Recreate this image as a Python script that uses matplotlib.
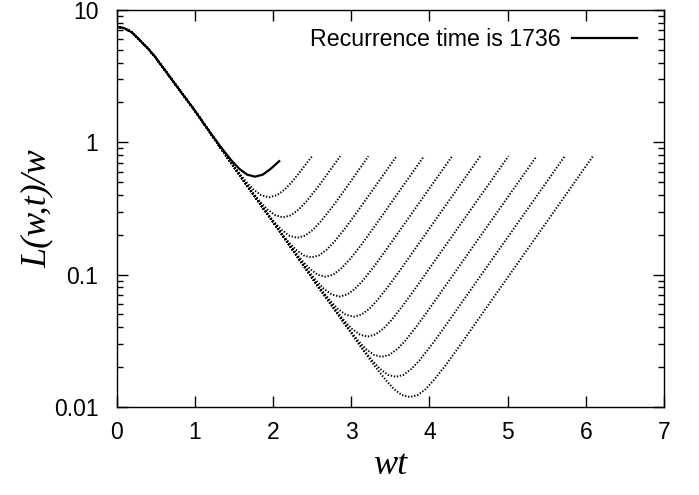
import matplotlib
matplotlib.use('Agg')
import matplotlib.pyplot as plt
from matplotlib.ticker import LogLocator, NullFormatter

plt.rcParams['font.family'] = ['Liberation Sans', 'DejaVu Sans']

# descending part that all curves share
env_x = [0.0, 0.1, 0.2, 0.3, 0.4, 0.5, 0.6, 0.7, 0.8, 0.9, 1.0, 1.1, 1.2,
         1.4, 1.6, 1.8, 2.0, 2.2, 2.4, 2.6, 2.8, 3.0, 3.2]
env_y = [7.50, 7.28, 6.76, 5.89, 5.13, 4.37, 3.63, 3.02, 2.51, 2.09, 1.74, 1.43, 1.175,
         0.794, 0.537, 0.367, 0.251, 0.170, 0.115, 0.0776, 0.0531, 0.0363, 0.0245]

# solid curve, recurrence time 1736
solid_x = [1.17, 1.32, 1.47, 1.57, 1.67, 1.77, 1.87, 1.97, 2.08]
solid_y = [1.25, 0.943, 0.728, 0.630, 0.570, 0.550, 0.570, 0.630, 0.72]
solid_label = 'Recurrence time is 1736'

# dotted curves, after they leave the shared part
dotted_x = [
    [1.35, 1.50, 1.65, 1.75, 1.85, 1.95, 2.05, 2.15, 2.25, 2.40, 2.50],
    [1.53, 1.68, 1.83, 1.93, 2.03, 2.13, 2.23, 2.33, 2.43, 2.58, 2.73, 2.86],
    [1.71, 1.86, 2.01, 2.11, 2.21, 2.31, 2.41, 2.51, 2.61, 2.76, 2.91, 3.22],
    [1.89, 2.04, 2.19, 2.29, 2.39, 2.49, 2.59, 2.69, 2.79, 2.94, 3.09, 3.58],
    [2.07, 2.22, 2.37, 2.47, 2.57, 2.67, 2.77, 2.87, 2.97, 3.12, 3.27, 3.93],
    [2.25, 2.40, 2.55, 2.65, 2.75, 2.85, 2.95, 3.05, 3.15, 3.30, 3.45, 4.29],
    [2.43, 2.58, 2.73, 2.83, 2.93, 3.03, 3.13, 3.23, 3.33, 3.48, 3.63, 4.65],
    [2.61, 2.76, 2.91, 3.01, 3.11, 3.21, 3.31, 3.41, 3.51, 3.66, 3.81, 5.01],
    [2.79, 2.94, 3.09, 3.19, 3.29, 3.39, 3.49, 3.59, 3.69, 3.84, 3.99, 5.37],
    [2.97, 3.12, 3.27, 3.37, 3.47, 3.57, 3.67, 3.77, 3.87, 4.02, 4.17, 5.73],
    [3.15, 3.30, 3.45, 3.55, 3.65, 3.75, 3.85, 3.95, 4.05, 4.20, 4.35, 6.09],
]
dotted_y = [
    [0.872, 0.658, 0.508, 0.440, 0.398, 0.384, 0.398, 0.440, 0.508, 0.658, 0.785],
    [0.615, 0.464, 0.359, 0.311, 0.281, 0.271, 0.281, 0.311, 0.359, 0.464, 0.615, 0.785],
    [0.431, 0.326, 0.252, 0.218, 0.197, 0.190, 0.197, 0.218, 0.252, 0.326, 0.431, 0.785],
    [0.306, 0.231, 0.179, 0.155, 0.140, 0.135, 0.140, 0.155, 0.179, 0.231, 0.306, 0.785],
    [0.219, 0.165, 0.128, 0.111, 0.100, 0.0965, 0.100, 0.111, 0.128, 0.165, 0.219, 0.785],
    [0.155, 0.117, 0.0904, 0.0783, 0.0708, 0.0683, 0.0708, 0.0783, 0.0904, 0.117, 0.155, 0.785],
    [0.109, 0.0824, 0.0637, 0.0551, 0.0499, 0.0481, 0.0499, 0.0551, 0.0637, 0.0824, 0.109, 0.785],
    [0.0772, 0.0583, 0.0450, 0.0390, 0.0353, 0.0340, 0.0353, 0.0390, 0.0450, 0.0583, 0.0772, 0.785],
    [0.0543, 0.0410, 0.0316, 0.0274, 0.0248, 0.0239, 0.0248, 0.0274, 0.0316, 0.0410, 0.0543, 0.785],
    [0.0384, 0.0290, 0.0224, 0.0194, 0.0175, 0.0169, 0.0175, 0.0194, 0.0224, 0.0290, 0.0384, 0.785],
    [0.0270, 0.0204, 0.0158, 0.0136, 0.0123, 0.0119, 0.0123, 0.0136, 0.0158, 0.0204, 0.0270, 0.785],
]

x_ticks = [0, 1, 2, 3, 4, 5, 6, 7]
y_ticks = [0.01, 0.1, 1, 10]
y_tick_labels = ['0.01', '0.1', '1', '10']


def join_curve(tail_x, tail_y):
    # shared part up to where this curve branches off
    head_x = [x for x in env_x if x < tail_x[0]]
    head_y = env_y[:len(head_x)]
    return head_x + tail_x, head_y + tail_y


fig = plt.figure(figsize=(6.99, 4.95), dpi=100)
ax = fig.add_axes([0.1667, 0.1778, 0.7833, 0.802])

for tx, ty in zip(dotted_x, dotted_y):
    cx, cy = join_curve(tx, ty)
    ax.plot(cx, cy, color='black', linewidth=1.4, linestyle=(0, (0.7, 0.9)))

cx, cy = join_curve(solid_x, solid_y)
ax.plot(cx, cy, color='black', linewidth=1.6, label=solid_label)

ax.set_yscale('log')
ax.set_xlim(0, 7)
ax.set_ylim(0.01, 10)
ax.set_xticks(x_ticks)
ax.set_yticks(y_ticks)
ax.set_yticklabels(y_tick_labels)
ax.yaxis.set_minor_locator(LogLocator(base=10, subs=range(2, 10)))
ax.yaxis.set_minor_formatter(NullFormatter())
ax.tick_params(which='both', direction='in', top=True, right=True, labelsize=16.5, width=1)
ax.tick_params(which='major', length=8)
ax.tick_params(which='minor', length=4)
ax.tick_params(axis='y', pad=13)
ax.tick_params(axis='x', pad=10)
for s in ax.spines.values():
    s.set_linewidth(1.0)

ax.set_xlabel('wt', fontsize=26, family='Liberation Serif', style='italic', labelpad=4)
ax.set_ylabel('L(w,t)/w', fontsize=26, family='Liberation Serif', style='italic', labelpad=0)

ax.legend(loc='upper right', bbox_to_anchor=(0.951, 0.955), frameon=False, markerfirst=False,
          handlelength=2.8, handletextpad=0.5, borderpad=0, borderaxespad=0, fontsize=16.7)

fig.savefig('out.png', dpi=100)
